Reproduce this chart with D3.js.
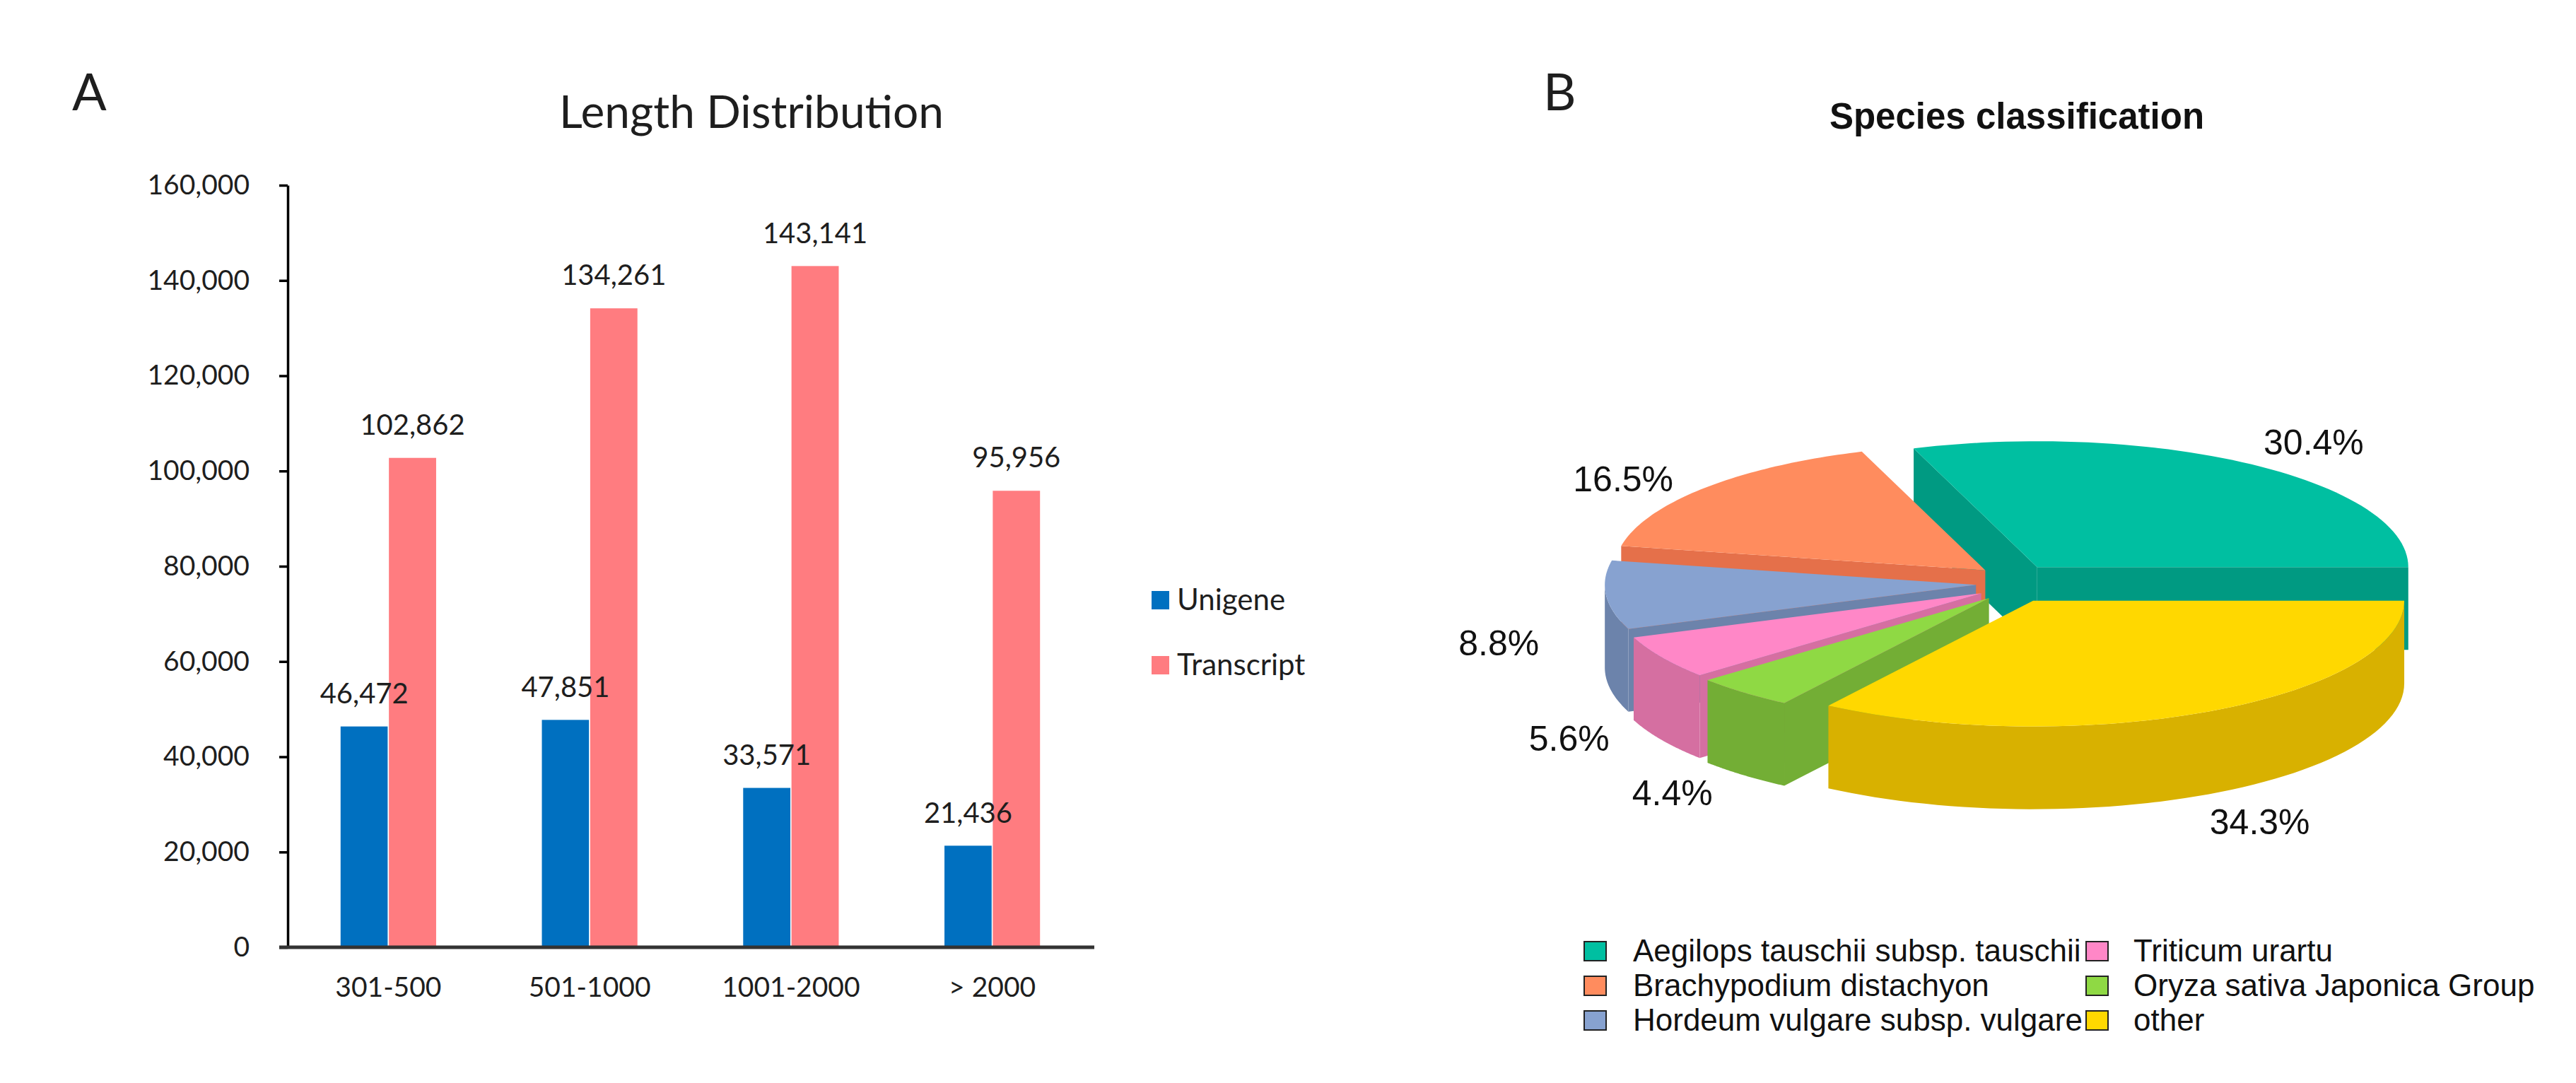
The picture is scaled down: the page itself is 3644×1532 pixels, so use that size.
<!DOCTYPE html>
<html lang="en">
<head>
<meta charset="UTF-8">
<title>Length Distribution / Species classification</title>
<script src="https://d3js.org/d3.v7.min.js"></script>
<style>
  body { margin: 0; background: #fff; }
  .calib { font-family: Lato, "Open Sans", sans-serif; fill: #1e1e1e; }
  .arial { font-family: "Liberation Sans", Arial, sans-serif; fill: #111; }
</style>
</head>
<body>
<svg id="fig" width="3644" height="1532"></svg>
<script>
// ---- panel A data
const categories = ["301-500", "501-1000", "1001-2000", "> 2000"];
const seriesNames = ["Unigene", "Transcript"];
const unigene = [46472, 47851, 33571, 21436];
const transcript = [102862, 134261, 143141, 95956];
const yTicks = [0, 20000, 40000, 60000, 80000, 100000, 120000, 140000, 160000];
const barColors = ["#0070C0", "#FF7C80"];

// ---- panel B data
const species = ["Aegilops tauschii subsp. tauschii", "Brachypodium distachyon",
  "Hordeum vulgare subsp. vulgare", "Triticum urartu", "Oryza sativa Japonica Group", "other"];
const shares = [30.4, 16.5, 8.8, 5.6, 4.4, 34.3];
const topColors = ["#00BFA1", "#FF8C5E", "#87A2D0", "#FF87C7", "#8FD944", "#FFD800"];
const sideColors = ["#009A82", "#E5704A", "#6C83AB", "#D56FA1", "#73AE35", "#D8B100"];

const svg = d3.select("#fig");

// =============== A: grouped bars ===============
const x0 = d3.scaleBand().domain(categories).range([407, 1546])
  .paddingInner(0.52).paddingOuter(0.26);
const x1 = d3.scaleBand().domain(seriesNames).range([0, x0.bandwidth()]);
const y = d3.scaleLinear().domain([0, 160000]).range([1340, 262]);

svg.append("text").attr("class", "calib").attr("x", 102).attr("y", 156)
  .attr("font-size", 72).text("A");
svg.append("text").attr("class", "calib").attr("x", 1063).attr("y", 181)
  .attr("text-anchor", "middle").attr("font-size", 64).text("Length Distribution");

const rows = categories.map((c, i) => ({cat: c, vals: [unigene[i], transcript[i]]}));

const groups = svg.append("g").selectAll("g").data(rows).join("g")
  .attr("transform", d => `translate(${x0(d.cat)},0)`);

groups.selectAll("rect")
  .data(d => d.vals.map((v, j) => ({s: seriesNames[j], v, j})))
  .join("rect")
  .attr("x", d => x1(d.s))
  .attr("y", d => y(d.v))
  .attr("width", x1.bandwidth())
  .attr("height", d => y(0) - y(d.v))
  .attr("fill", d => barColors[d.j])
  .attr("stroke", "#fff").attr("stroke-width", 1.5);

// y axis
const yAxis = svg.append("g").attr("transform", "translate(407,0)")
  .call(d3.axisLeft(y).tickValues(yTicks).tickFormat(d3.format(","))
    .tickSize(12).tickSizeOuter(0).tickPadding(42));
yAxis.select(".domain").attr("stroke", "#000").attr("stroke-width", 3.5);
yAxis.selectAll(".tick line").attr("stroke", "#000").attr("stroke-width", 3.5);
yAxis.selectAll(".tick text").attr("class", "calib").attr("font-size", 39);

// x axis
const xAxis = svg.append("g").attr("transform", "translate(0,1340)")
  .call(d3.axisBottom(x0).tickSize(0).tickPadding(42).tickSizeOuter(0));
xAxis.select(".domain").attr("d", "M395,0H1548").attr("stroke", "#333").attr("stroke-width", 5);
xAxis.selectAll(".tick text").attr("class", "calib").attr("font-size", 39);

// data labels (drawn on top of all bars)
svg.append("g").selectAll("text")
  .data(rows.flatMap(r => r.vals.map((v, j) => ({cat: r.cat, s: seriesNames[j], v}))))
  .join("text").attr("class", "calib")
  .attr("x", d => x0(d.cat) + x1(d.s) + x1.bandwidth() / 2)
  .attr("y", d => y(d.v) - 32)
  .attr("text-anchor", "middle").attr("font-size", 40)
  .text(d => d3.format(",")(d.v));

// legend
const lg = svg.append("g").selectAll("g").data(seriesNames).join("g")
  .attr("transform", (d, i) => `translate(1629,${836 + i * 92})`);
lg.append("rect").attr("width", 25).attr("height", 26).attr("fill", (d, i) => barColors[i]);
lg.append("text").attr("class", "calib").attr("x", 36).attr("y", 27)
  .attr("font-size", 42).text(d => d);

// =============== B: exploded 3D pie ===============
svg.append("text").attr("class", "calib").attr("x", 2183).attr("y", 156)
  .attr("font-size", 72).text("B");
svg.append("text").attr("class", "arial").attr("x", 2853).attr("y", 182)
  .attr("text-anchor", "middle").attr("font-size", 51).attr("font-weight", "bold")
  .text("Species classification");

const cx = 2850, cy = 825, rx = 525, ry = 178, depth = 117, ex = 55, ey = 28;
const pie = d3.pie().sort(null).value(d => d)
  .startAngle(Math.PI / 2).endAngle(Math.PI / 2 - 2 * Math.PI);
const arcs = pie(shares).map((a, i) => {
  const lo = Math.min(a.startAngle, a.endAngle), hi = Math.max(a.startAngle, a.endAngle);
  const mid = (lo + hi) / 2;
  return {i, lo, hi, mid, ox: cx + ex * Math.sin(mid), oy: cy - ey * Math.cos(mid)};
});

const rim = (d, a, dz = 0) => [d.ox + rx * Math.sin(a), d.oy - ry * Math.cos(a) + dz];
const arcPts = (d, a0, a1, dz = 0) => d3.range(0, 61).map(k => rim(d, a0 + (a1 - a0) * k / 60, dz));
const line = d3.line();

const pieG = svg.append("g");
const order = arcs.slice().sort((a, b) => (-Math.cos(a.mid)) - (-Math.cos(b.mid)));

order.forEach(d => {
  const g = pieG.append("g");
  // visible radial cut faces
  [[d.lo, Math.sin(d.lo) < 0], [d.hi, Math.sin(d.hi) > 0]].forEach(([a, vis]) => {
    if (!vis) return;
    const p = rim(d, a), q = rim(d, a, depth);
    g.append("path").attr("fill", sideColors[d.i])
      .attr("d", line([[d.ox, d.oy], p, q, [d.ox, d.oy + depth]]) + "Z");
  });
  // outer curved side (front half only)
  const s0 = Math.max(d.lo, -1.5 * Math.PI), s1 = Math.min(d.hi, -0.5 * Math.PI);
  if (s1 > s0) {
    const pts = arcPts(d, s0, s1).concat(arcPts(d, s1, s0, depth));
    g.append("path").attr("fill", sideColors[d.i]).attr("d", line(pts) + "Z");
  }
  // top face
  const top = [[d.ox, d.oy]].concat(arcPts(d, d.lo, d.hi));
  g.append("path").attr("fill", topColors[d.i]).attr("d", line(top) + "Z");
});

// percentage labels
svg.append("g").selectAll("text").data(arcs).join("text").attr("class", "arial")
  .attr("x", d => d.ox + 1.29 * rx * Math.sin(d.mid))
  .attr("y", d => d.oy - 1.29 * ry * Math.cos(d.mid) + depth * (0.5 - 0.5 * Math.cos(d.mid)))
  .attr("dy", "0.36em").attr("text-anchor", "middle").attr("font-size", 50)
  .text(d => shares[d.i].toFixed(1) + "%");

// legend (3 rows, column-major)
const leg = svg.append("g").selectAll("g").data(species).join("g")
  .attr("transform", (d, i) => `translate(${i < 3 ? 2241 : 2951},${1332 + (i % 3) * 49})`);
leg.append("rect").attr("width", 31).attr("height", 27)
  .attr("fill", (d, i) => topColors[i]).attr("stroke", "#222").attr("stroke-width", 2);
leg.append("text").attr("class", "arial").attr("x", (d, i) => i < 3 ? 69 : 67).attr("y", 28)
  .attr("font-size", 44).text(d => d);
</script>
</body>
</html>
